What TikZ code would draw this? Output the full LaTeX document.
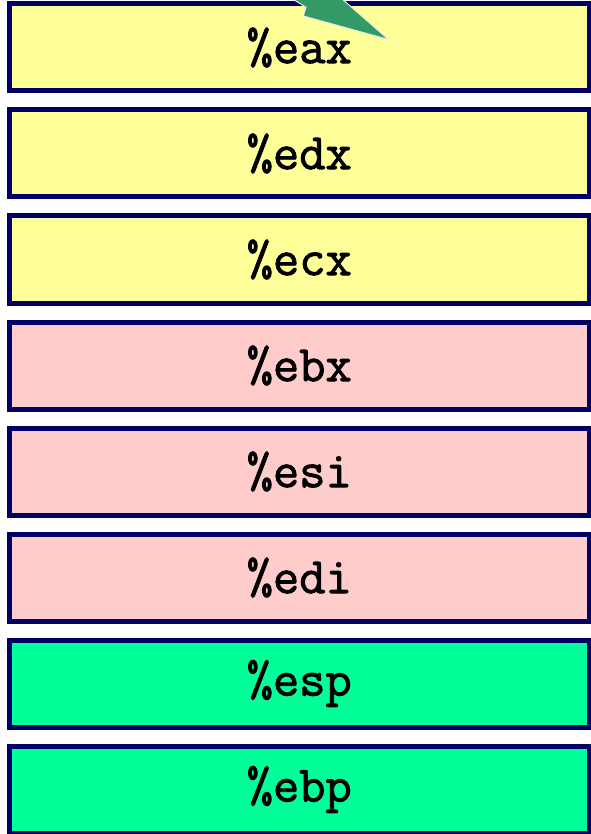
\documentclass[tikz,border=0pt]{standalone}
\usepackage{fontspec}
\newfontfamily\regfont[FakeBold=1.8]{Latin Modern Mono}
\definecolor{navy}{HTML}{000066}
\definecolor{yel}{HTML}{FFFF99}
\definecolor{pnk}{HTML}{FFCCCC}
\definecolor{grn}{HTML}{00FF99}
\definecolor{arrowgreen}{HTML}{339966}
\tikzset{
  regbox/.style={draw=navy, line width=5pt, minimum width=579.5pt, minimum height=87pt, inner sep=0pt, anchor=north west,
    font=\regfont\fontsize{51}{51}\selectfont, text=black},
}
\begin{document}
\begin{tikzpicture}[x=1pt,y=-1pt]
\useasboundingbox (0,0) rectangle (590,834);
\node[regbox, fill=yel] (eax) at (7,1.5) {\%eax};
\node[regbox, fill=yel] (edx) at (7,107.5) {\%edx};
\node[regbox, fill=yel] (ecx) at (7,213.5) {\%ecx};
\node[regbox, fill=pnk] (ebx) at (7,319.5) {\%ebx};
\node[regbox, fill=pnk] (esi) at (7,425.5) {\%esi};
\node[regbox, fill=pnk] (edi) at (7,531.5) {\%edi};
\node[regbox, fill=grn] (esp) at (7,637.5) {\%esp};
\node[regbox, fill=grn] (ebp) at (7,743.5) {\%ebp};
\coordinate (tip) at (388.5,39.5);
\fill[arrowgreen, draw=white!85!gray, line width=1pt, line join=miter]
  (291,-2) -- (306,7.3) -- (303.3,16) -- (tip) -- (341,-2) -- cycle;
\end{tikzpicture}
\end{document}
